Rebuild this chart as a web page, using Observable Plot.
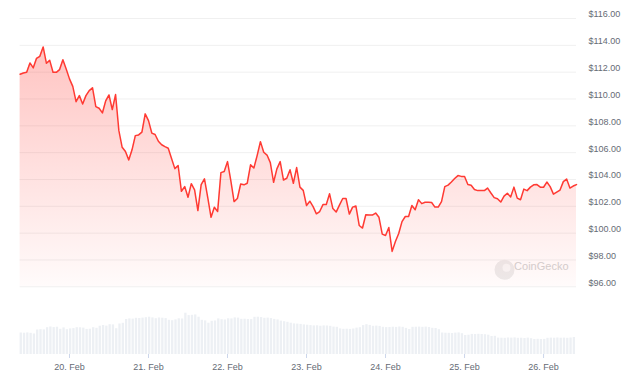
<!DOCTYPE html>
<html><head><meta charset="utf-8">
<script src="https://cdn.jsdelivr.net/npm/d3@7"></script>
<script src="https://cdn.jsdelivr.net/npm/@observablehq/plot@0.6"></script>
<style>
html,body{margin:0;padding:0;background:#fff;}
#chart{position:relative;width:636px;height:385px;overflow:hidden;background:#fff;}
#chart svg{position:absolute;left:0;top:0;}
</style></head><body><div id="chart"></div>
<script>
// Hourly series starting at this time (UTC)
const startTime = "2024-02-19T09:00:00Z";

// Price in USD, one value per hour
const prices = [
111.84, 111.94, 111.99, 112.69, 112.32, 113.03, 113.18, 113.88, 112.66, 112.88,
111.99, 111.99, 112.19, 112.93, 112.24, 111.50, 110.94, 109.80, 110.25, 109.63,
110.25, 110.62, 110.83, 109.43, 109.31, 108.96, 109.86, 110.30, 109.21, 110.33,
107.64, 106.40, 106.08, 105.46, 106.21, 107.27, 107.32, 107.53, 108.89, 108.39,
107.46, 107.35, 106.85, 106.59, 106.45, 106.33, 105.56, 104.81, 105.04, 103.12,
103.47, 102.67, 103.69, 103.23, 101.68, 103.62, 104.05, 102.65, 101.18, 101.93,
101.61, 104.51, 104.59, 105.33, 103.92, 102.35, 102.58, 103.66, 103.60, 103.72,
105.09, 104.85, 105.78, 106.82, 106.03, 105.82, 105.26, 103.79, 104.79, 105.33,
103.96, 104.09, 104.72, 103.72, 104.89, 103.43, 103.19, 102.06, 102.38, 101.98,
101.44, 101.61, 102.13, 102.13, 102.93, 101.83, 101.57, 102.09, 102.58, 102.58,
101.42, 101.94, 102.02, 100.57, 100.38, 101.37, 101.35, 101.35, 101.50, 101.18,
99.93, 99.82, 100.42, 98.64, 99.37, 99.97, 100.86, 101.24, 101.24, 102.06,
101.74, 102.49, 102.20, 102.30, 102.30, 102.28, 101.94, 101.94, 102.35, 103.47,
103.58, 103.81, 104.07, 104.29, 104.23, 104.22, 103.62, 103.57, 103.25, 103.17,
103.17, 103.17, 103.36, 102.99, 102.65, 102.56, 102.32, 102.76, 102.97, 102.70,
103.43, 102.61, 102.49, 103.28, 103.17, 103.43, 103.60, 103.62, 103.43, 103.42,
103.81, 103.47, 102.91, 103.06, 103.21, 103.84, 104.03, 103.36, 103.51, 103.62
];

// Hourly trading volume (USD millions, estimated)
const volumes = [
21.5, 21.3, 21.6, 21.2, 20.5, 24.5, 24.8, 24.6, 26.8, 27.5,
26.9, 27.3, 25.2, 26.6, 24.8, 25.6, 25.9, 26.8, 26.7, 26.4,
25.1, 25.3, 26.8, 26.2, 28.3, 29.0, 28.4, 29.8, 29.6, 25.8,
30.5, 31.2, 35.0, 35.6, 35.4, 36.2, 36.0, 36.4, 36.8, 37.3,
36.6, 35.8, 36.5, 36.3, 35.9, 34.2, 33.8, 34.6, 35.7, 35.5,
41.3, 38.9, 39.2, 39.6, 37.3, 34.2, 33.6, 31.3, 33.2, 33.5,
35.6, 34.8, 34.5, 35.7, 35.6, 36.6, 36.4, 35.2, 35.3, 35.0,
34.9, 37.2, 37.3, 36.9, 36.2, 36.4, 35.9, 35.1, 34.6, 33.4,
32.8, 32.2, 31.3, 30.6, 30.4, 30.1, 29.6, 29.3, 28.9, 28.6,
28.7, 28.3, 28.6, 28.5, 28.2, 27.4, 27.2, 25.6, 25.2, 25.3,
25.1, 25.5, 26.4, 26.8, 28.9, 29.8, 29.1, 28.2, 28.4, 28.1,
27.2, 26.9, 27.0, 27.3, 27.1, 27.5, 27.2, 26.1, 25.0, 27.2,
27.3, 27.4, 27.2, 27.4, 27.0, 26.2, 26.0, 24.8, 21.5, 21.3,
21.2, 21.0, 21.4, 21.6, 20.8, 19.0, 19.3, 20.1, 20.0, 20.2,
20.0, 19.8, 19.3, 18.0, 18.2, 16.4, 16.3, 16.2, 16.5, 16.4,
16.6, 16.2, 16.3, 16.0, 16.4, 15.8, 15.0, 15.2, 15.0, 15.1,
16.2, 16.4, 16.3, 16.5, 16.3, 16.4, 16.2, 16.5, 17.0
];

// Axis ticks
const yTicks = [96, 98, 100, 102, 104, 106, 108, 110, 112, 114, 116];
const xTickDays = ["2024-02-20", "2024-02-21", "2024-02-22", "2024-02-23", "2024-02-24", "2024-02-25", "2024-02-26"];

const hour = 3600e3;
const t0 = new Date(startTime);
const priceData = prices.map((p, i) => ({t: new Date(+t0 + i * hour), p}));
const volData = volumes.map((v, i) => ({t: new Date(+t0 + i * hour), v}));
const xTicks = xTickDays.map(d => new Date(d + "T00:00:00Z"));
const xDomain = [t0, new Date(+t0 + (prices.length - 1) * hour)];

const W = 636, H = 385, mL = 19.6, mR = 60;
const font = "'Liberation Sans', Arial, sans-serif";
const labelColor = "#666b75";

const gradient = () => {
  const defs = d3.create("svg:defs");
  const g = defs.append("linearGradient").attr("id", "priceFill")
    .attr("x1", 0).attr("x2", 0).attr("y1", 0).attr("y2", 1);
  g.append("stop").attr("offset", 0).attr("stop-color", "#ff3a33").attr("stop-opacity", 0.3);
  g.append("stop").attr("offset", 1).attr("stop-color", "#ff3a33").attr("stop-opacity", 0.02);
  return defs.node();
};

const volPlot = Plot.plot({
  width: W, height: H, marginLeft: mL, marginRight: mR, marginTop: 0, marginBottom: 31,
  style: {background: "transparent", fontFamily: font, fontSize: "9px"},
  x: {type: "utc", domain: xDomain},
  y: {domain: [0, 50], range: [354, 304], axis: null},
  marks: [
    Plot.rectY(volData, {x1: d => d.t, x2: d => new Date(+d.t + 42 * 60e3), y: "v", fill: "#edf0f4"}),
    Plot.axisX(xTicks, {tickSize: 4, tickPadding: 5, stroke: "#ccd6eb", fill: labelColor,
      label: null, tickFormat: d3.utcFormat("%-d. %b")})
  ]
});

const pricePlot = Plot.plot({
  width: W, height: H, marginLeft: mL, marginRight: mR, marginTop: 18, marginBottom: 98.7,
  style: {background: "transparent", fontFamily: font, fontSize: "9px"},
  x: {type: "utc", domain: xDomain, axis: null},
  y: {domain: [96, 116], axis: null},
  marks: [
    gradient,
    Plot.ruleY(yTicks, {stroke: "#f0f0f0"}),
    Plot.dot([0], {frameAnchor: "bottom-right", dx: -72, dy: -17, r: 10, fill: "#ececec"}),
    Plot.dot([0], {frameAnchor: "bottom-right", dx: -70, dy: -19, r: 4, fill: "#f8f8f8"}),
    Plot.text(["CoinGecko"], {text: d => d, frameAnchor: "bottom-right", dx: -8, dy: -17,
      textAnchor: "end", fill: "#d2d2d2", fontSize: 11}),
    Plot.areaY(priceData, {x: "t", y1: 96, y2: "p", fill: "url(#priceFill)"}),
    Plot.lineY(priceData, {x: "t", y: "p", stroke: "#ff3a33", strokeWidth: 1.5}),
    Plot.axisY(yTicks, {anchor: "right", tickSize: 0, tickPadding: 12, dy: -4, fill: labelColor,
      label: null, tickFormat: d => "$" + d.toFixed(2)})
  ]
});

const chart = document.getElementById("chart");
chart.append(volPlot, pricePlot);
</script>
</body></html>
